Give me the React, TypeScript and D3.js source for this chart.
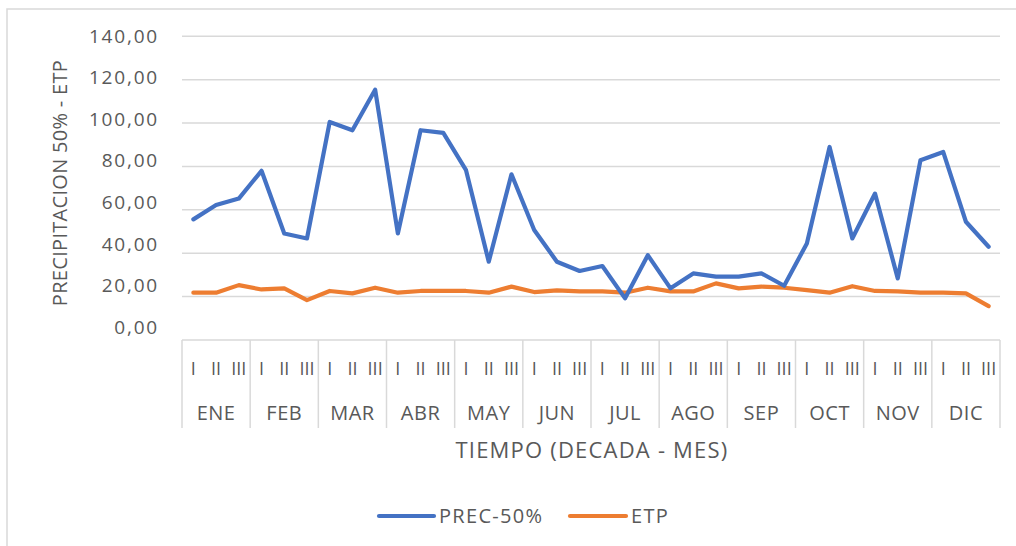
import React from 'react';
import * as d3 from 'd3';

const months = ['ENE', 'FEB', 'MAR', 'ABR', 'MAY', 'JUN', 'JUL', 'AGO', 'SEP', 'OCT', 'NOV', 'DIC'];
const decades = ['I', 'II', 'III'];

const prec50 = [
  55.6, 62.2, 65.2, 78.0, 49.1, 46.8, 100.5, 96.7, 115.4,
  49.1, 96.7, 95.5, 78.3, 36.1, 76.4, 50.7, 36.1, 31.8,
  34.1, 19.2, 39.1, 23.8, 30.7, 29.2, 29.2, 30.7, 25.0,
  44.5, 89.0, 46.8, 67.5, 28.4, 82.9, 86.7, 54.5, 43.0,
];
const etp = [
  21.8, 21.8, 25.3, 23.3, 23.8, 18.4, 22.6, 21.5, 24.1,
  21.8, 22.6, 22.6, 22.6, 21.8, 24.6, 22.1, 22.9, 22.4,
  22.4, 21.8, 24.1, 22.4, 22.4, 26.1, 23.8, 24.6, 24.1,
  23.0, 21.8, 24.8, 22.6, 22.4, 21.8, 21.8, 21.5, 15.6,
];
const yTicks = [0, 20, 40, 60, 80, 100, 120, 140];

const W = 1016;
const H = 546;
const left = 182;
const right = 1000;
const font = "'Open Sans', sans-serif";
const txt = '#595959';
const grid = '#d9d9d9';

const App: React.FC = () => {
  const idx = d3.range(prec50.length);
  const x = d3.scaleBand<number>().domain(idx).range([left, right]);
  const xm = d3.scaleBand<string>().domain(months).range([left, right]);
  const y = d3.scaleLinear().domain([0, 140]).range([340, 36.3]);
  // tick labels in the source sit on a slightly tighter scale
  const yl = d3.scaleLinear().domain([0, 140]).range([327, 36]);
  const cx = (i: number) => (x(i) as number) + x.bandwidth() / 2;

  const line = d3.line<number>().x((_, i) => cx(i)).y(d => y(d));
  const fmt = (v: number) => v.toFixed(2).replace('.', ',');

  return (
    <svg width={W} height={H} style={{ position: 'absolute', left: 0, top: 0, background: '#fff' }}>
      <rect x={7} y={9} width={W} height={H} fill="#fff" stroke={grid} strokeWidth={1.5} />

      {yTicks.map(t => (
        <g key={t}>
          <line x1={left} x2={right} y1={y(t)} y2={y(t)} stroke={grid} strokeWidth={1.5} />
          <text x={159} y={yl(t)} dy="0.35em" textAnchor="end" fontFamily={font} fontSize={19}
            letterSpacing={1.8} fill={txt}>
            {fmt(t)}
          </text>
        </g>
      ))}

      {/* category box */}
      {d3.range(months.length + 1).map(m => {
        const xx = m < months.length ? (xm(months[m]) as number) : right;
        return <line key={m} x1={xx} x2={xx} y1={y(0)} y2={428} stroke={grid} strokeWidth={1.5} />;
      })}
      {idx.map(i => (
        <text key={i} x={cx(i)} y={369} dy="0.35em" textAnchor="middle" fontFamily={font} fontSize={18} fill={txt}>
          {decades[i % 3]}
        </text>
      ))}
      {months.map(m => (
        <text key={m} x={(xm(m) as number) + xm.bandwidth() / 2} y={413} dy="0.35em" textAnchor="middle"
          fontFamily={font} fontSize={20} letterSpacing={0.5} fill={txt}>
          {m}
        </text>
      ))}

      <path d={line(etp) || ''} fill="none" stroke="#ED7D31" strokeWidth={4.2} strokeLinejoin="round" strokeLinecap="round" />
      <path d={line(prec50) || ''} fill="none" stroke="#4472C4" strokeWidth={4.2} strokeLinejoin="round" strokeLinecap="round" />

      <text x={592} y={450} dy="0.35em" textAnchor="middle" fontFamily={font} fontSize={22} letterSpacing={1.2} fill={txt}>
        TIEMPO (DECADA - MES)
      </text>
      <text transform="translate(60,183) rotate(-90)" textAnchor="middle" dy="0.35em" fontFamily={font} fontSize={20}
        letterSpacing={0.3} fill={txt}>
        PRECIPITACION 50% - ETP
      </text>

      {/* legend */}
      <line x1={379} x2={434} y1={516} y2={516} stroke="#4472C4" strokeWidth={4.2} strokeLinecap="round" />
      <text x={439} y={516} dy="0.35em" fontFamily={font} fontSize={20} letterSpacing={1.3} fill={txt}>PREC-50%</text>
      <line x1={570} x2={626} y1={516} y2={516} stroke="#ED7D31" strokeWidth={4.2} strokeLinecap="round" />
      <text x={631} y={516} dy="0.35em" fontFamily={font} fontSize={20} letterSpacing={1.3} fill={txt}>ETP</text>
    </svg>
  );
};

export default App;
